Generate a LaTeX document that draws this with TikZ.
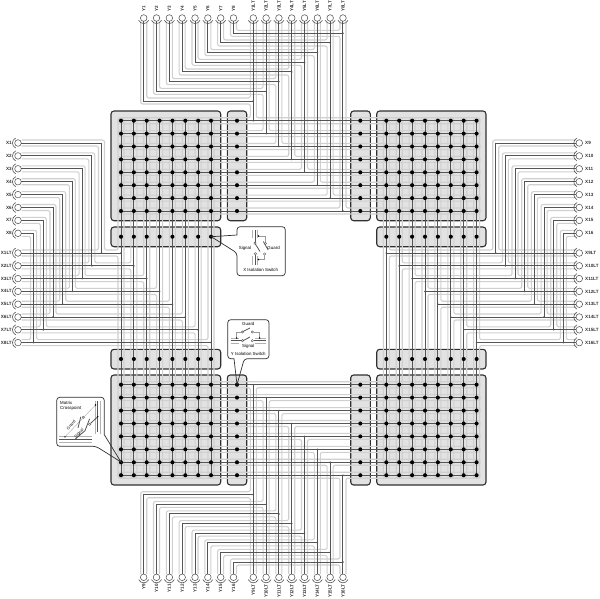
\documentclass[tikz,border=0pt]{standalone}
\usepackage{fontspec}
\setsansfont{Liberation Sans}
\tikzset{
  guardline/.style={draw=guardgray,line width=1.1pt,rounded corners=2pt},
  wire/.style={draw=wiredark,line width=1pt},
  swbox/.style={draw=boxedge,fill=boxfill,line width=1.1pt,rounded corners=3pt,inner sep=0pt,outer sep=0pt},
  term/.style={circle,draw=wiredark,fill=white,line width=0.55pt,inner sep=0pt,minimum size=6.6pt,outer sep=0pt},
  lab/.style={font=\sffamily\bfseries\fontsize{4.6}{5}\selectfont,text=labcol,inner sep=0pt},
  cal/.style={font=\sffamily\fontsize{4.4}{5}\selectfont,text=black,inner sep=0pt},
  callout/.style={draw=boxedge,line width=0.7pt,rounded corners=3pt},
  calfill/.style={fill=white,rounded corners=3pt},
  shield/.style={draw=guardgray!85!black,line width=0.7pt},
  blade/.style={draw=wiredark,line width=0.8pt},
  pole/.style={circle,draw=wiredark,fill=white,line width=0.4pt,inner sep=0pt,minimum size=2.4pt},
  jdot/.style={circle,fill=wiredark,inner sep=0pt,minimum size=1.8pt},
  xdot/.style={circle,fill=black,inner sep=0pt,minimum size=4.1pt},
}
\definecolor{guardgray}{HTML}{D0D0D0}
\definecolor{wiredark}{HTML}{555555}
\definecolor{boxedge}{HTML}{303030}
\definecolor{boxfill}{HTML}{E2E2E2}
\definecolor{labcol}{HTML}{333333}
\begin{document}
\begin{tikzpicture}[x=1pt,y=-1pt]
\useasboundingbox (0,0) rectangle (600,598);
% switch and matrix blocks
\node[swbox,minimum width=109.7pt,minimum height=109.7pt] (mTL) at (165.85,165.85) {};
\node[swbox,minimum width=109.3pt,minimum height=109.7pt] (mTR) at (431.35,165.85) {};
\node[swbox,minimum width=109.7pt,minimum height=110pt] (mBL) at (165.85,430) {};
\node[swbox,minimum width=109.3pt,minimum height=110pt] (mBR) at (431.35,430) {};
\node[swbox,minimum width=19.4pt,minimum height=109.7pt] (cTL) at (237,165.85) {};
\node[swbox,minimum width=19.6pt,minimum height=109.7pt] (cTR) at (360.5,165.85) {};
\node[swbox,minimum width=19.4pt,minimum height=110pt] (cBL) at (237,430) {};
\node[swbox,minimum width=19.6pt,minimum height=110pt] (cBR) at (360.5,430) {};
\node[swbox,minimum width=109.7pt,minimum height=19.7pt] (rTL) at (165.85,236.85) {};
\node[swbox,minimum width=109.3pt,minimum height=19.7pt] (rTR) at (431.35,236.85) {};
\node[swbox,minimum width=109.7pt,minimum height=19.7pt] (rBL) at (165.85,359.15) {};
\node[swbox,minimum width=109.3pt,minimum height=19.7pt] (rBR) at (431.35,359.15) {};
% guards
\foreach \i in {1,...,8}{
  \pgfmathsetmacro{\tx}{143.7+(\i-1)*12.83}
  \pgfmathsetmacro{\bx}{253.3+(\i-1)*12.81}
  \pgfmathsetmacro{\ty}{101-(\i-1)*9.67}
  \pgfmathsetmacro{\by}{494.7+(\i-1)*9.62}
  \pgfmathsetmacro{\rt}{120.7+(\i-1)*12.9}
  \pgfmathsetmacro{\rb}{384.7+(\i-1)*12.93}
  \pgfmathsetmacro{\ly}{143+(\i-1)*12.9}
  \pgfmathsetmacro{\ll}{253+(\i-1)*12.8}
  \pgfmathsetmacro{\xl}{101.5-(\i-1)*9.7}
  \pgfmathsetmacro{\xr}{495.7+(\i-1)*9.67}
  \pgfmathsetmacro{\cl}{121+(\i-1)*12.86}
  \pgfmathsetmacro{\cr}{386.3+(\i-1)*12.9}
  \path[guardline] (\tx-3,21.5) -- (\tx-3,\ty+3) -- (\bx-3,\ty+3) -- (\bx-3,\rt-3) -- (118,\rt-3) -- (118,\rt+3) -- (480,\rt+3) -- (480,\rt-3) -- (\bx+3,\rt-3) -- (\bx+3,21.5);
  \path[guardline] (\tx+3,21.5) -- (\tx+3,\ty-3) -- (\bx-3,\ty-3) -- (\bx-3,21.5);
  \path[guardline] (\tx-3,573.8) -- (\tx-3,\by-3) -- (\bx-3,\by-3) -- (\bx-3,\rb+3) -- (118,\rb+3) -- (118,\rb-3) -- (480,\rb-3) -- (480,\rb+3) -- (\bx+3,\rb+3) -- (\bx+3,573.8);
  \path[guardline] (\tx+3,573.8) -- (\tx+3,\by+3) -- (\bx-3,\by+3) -- (\bx-3,573.8);
  \path[guardline] (21.5,\ly-3) -- (\xl+3,\ly-3) -- (\xl+3,\ll-3) -- (\cl-3,\ll-3) -- (\cl-3,118) -- (\cl+3,118) -- (\cl+3,478) -- (\cl-3,478) -- (\cl-3,\ll+3) -- (21.5,\ll+3);
  \path[guardline] (21.5,\ly+3) -- (\xl-3,\ly+3) -- (\xl-3,\ll-3) -- (21.5,\ll-3);
  \path[guardline] (575.8,\ly-3) -- (\xr-3,\ly-3) -- (\xr-3,\ll-3) -- (\cr+3,\ll-3) -- (\cr+3,118) -- (\cr-3,118) -- (\cr-3,478) -- (\cr+3,478) -- (\cr+3,\ll+3) -- (575.8,\ll+3);
  \path[guardline] (575.8,\ly+3) -- (\xr+3,\ly+3) -- (\xr+3,\ll-3) -- (575.8,\ll-3);
}
% terminals, junctions, traces
\foreach \i in {1,...,8}{
  \pgfmathtruncatemacro{\m}{\i+8}
  \pgfmathsetmacro{\tx}{143.7+(\i-1)*12.83}
  \pgfmathsetmacro{\bx}{253.3+(\i-1)*12.81}
  \pgfmathsetmacro{\ty}{101-(\i-1)*9.67}
  \pgfmathsetmacro{\by}{494.7+(\i-1)*9.62}
  \pgfmathsetmacro{\rt}{120.7+(\i-1)*12.9}
  \pgfmathsetmacro{\rb}{384.7+(\i-1)*12.93}
  \pgfmathsetmacro{\ly}{143+(\i-1)*12.9}
  \pgfmathsetmacro{\ll}{253+(\i-1)*12.8}
  \pgfmathsetmacro{\xl}{101.5-(\i-1)*9.7}
  \pgfmathsetmacro{\xr}{495.7+(\i-1)*9.67}
  \pgfmathsetmacro{\cl}{121+(\i-1)*12.86}
  \pgfmathsetmacro{\cr}{386.3+(\i-1)*12.9}
  \node[term] (TA\i) at (\tx,18) {};
  \node[term] (TB\i) at (\bx,18) {};
  \node[term] (BA\i) at (\tx,577.3) {};
  \node[term] (BB\i) at (\bx,577.3) {};
  \node[term] (LA\i) at (18,\ly) {};
  \node[term] (LB\i) at (18,\ll) {};
  \node[term] (RA\i) at (579.3,\ly) {};
  \node[term] (RB\i) at (579.3,\ll) {};
  \foreach \px in {\tx,\bx}{
    \draw[wiredark,line width=0.6pt] (\px-5,20.3) .. controls (\px-3,24.6) and (\px+3,24.6) .. (\px+5,20.3);
    \draw[wiredark,line width=0.6pt] (\px-5,579.6) .. controls (\px-3,583.9) and (\px+3,583.9) .. (\px+5,579.6);
  }
  \foreach \py in {\ly,\ll}{
    \draw[wiredark,line width=0.6pt] (15.7,\py-5) .. controls (11.4,\py-3) and (11.4,\py+3) .. (15.7,\py+5);
    \draw[wiredark,line width=0.6pt] (577,\py-5) .. controls (572.7,\py-3) and (572.7,\py+3) .. (577,\py+5);
  }
  \node[lab,rotate=90,anchor=west] at (\tx,12) {Y\i};
  \node[lab,rotate=90,anchor=west] at (\bx,12) {Y\i LT};
  \node[lab,rotate=90,anchor=east] at (\tx,584) {Y\m};
  \node[lab,rotate=90,anchor=east] at (\bx,584) {Y\m LT};
  \node[lab,anchor=east] at (12,\ly) {X\i};
  \node[lab,anchor=east] at (12,\ll) {X\i LT};
  \node[lab,anchor=west] at (585,\ly) {X\m};
  \node[lab,anchor=west] at (585,\ll) {X\m LT};
  \coordinate (JT\i) at (\bx,\ty);
  \coordinate (JB\i) at (\bx,\by);
  \coordinate (JL\i) at (\xl,\ll);
  \coordinate (JR\i) at (\xr,\ll);
  \coordinate (RowTa\i) at (121,\rt);
  \coordinate (RowTb\i) at (476.7,\rt);
  \coordinate (RowBa\i) at (121,\rb);
  \coordinate (RowBb\i) at (476.7,\rb);
  \coordinate (ColLa\i) at (\cl,120.7);
  \coordinate (ColLb\i) at (\cl,475.2);
  \coordinate (ColRa\i) at (\cr,120.7);
  \coordinate (ColRb\i) at (\cr,475.2);
  \draw[wire] (RowTa\i) -- (RowTb\i);
  \draw[wire] (RowBa\i) -- (RowBb\i);
  \draw[wire] (ColLa\i) -- (ColLb\i);
  \draw[wire] (ColRa\i) -- (ColRb\i);
  \draw[wire] (TA\i.south) |- (JT\i);
  \draw[wire] (TB\i.south) -- (\bx,\rt);
  \draw[wire] (BA\i.north) |- (JB\i);
  \draw[wire] (BB\i.north) -- (\bx,\rb);
  \draw[wire] (LA\i.east) -| (JL\i);
  \draw[wire] (LB\i.east) -- (\cl,\ll);
  \draw[wire] (RA\i.west) -| (JR\i);
  \draw[wire] (RB\i.west) -- (\cr,\ll);
  \node[jdot] at (JT\i) {};
  \node[jdot] at (JB\i) {};
  \node[jdot] at (JL\i) {};
  \node[jdot] at (JR\i) {};
  \node[jdot] at (\bx,\rt) {};
  \node[jdot] at (\bx,\rb) {};
  \node[jdot] at (\cl,\ll) {};
  \node[jdot] at (\cr,\ll) {};
}
% crosspoints and isolation switch contacts
\foreach \i in {1,...,8}{
  \pgfmathsetmacro{\rt}{120.7+(\i-1)*12.9}
  \pgfmathsetmacro{\rb}{384.7+(\i-1)*12.93}
  \pgfmathsetmacro{\cl}{121+(\i-1)*12.86}
  \pgfmathsetmacro{\cr}{386.3+(\i-1)*12.9}
  \node[xdot] at (237,\rt) {};
  \node[xdot] at (360.3,\rt) {};
  \node[xdot] at (237,\rb) {};
  \node[xdot] at (360.3,\rb) {};
  \node[xdot] at (\cl,236.7) {};
  \node[xdot] at (\cl,359) {};
  \node[xdot] at (\cr,236.7) {};
  \node[xdot] at (\cr,359) {};
  \foreach \j in {1,...,8}{
    \pgfmathsetmacro{\rtj}{120.7+(\j-1)*12.9}
    \pgfmathsetmacro{\rbj}{384.7+(\j-1)*12.93}
    \node[xdot] at (\cl,\rtj) {};
    \node[xdot] at (\cr,\rtj) {};
    \node[xdot] at (\cl,\rbj) {};
    \node[xdot] at (\cr,\rbj) {};
  }
}
% X isolation callout
\path[calfill] (236.7,226.7) rectangle (285.3,275.7);
\draw[callout] (237,235) -- (237,226.7) -- (285.3,226.7) -- (285.3,275.7) -- (237,275.7) -- (237,253) [sharp corners] -- (211.3,236.7) -- cycle;
\draw[shield] (252.6,230) -- (252.6,238);
\draw[shield] (257.4,230) -- (257.4,238);
\draw[shield] (252.6,256) -- (252.6,265);
\draw[shield] (257.4,256) -- (257.4,265);
\node[pole] (sa) at (255,243.2) {};
\node[pole] (sb) at (255.4,253.8) {};
\node[pole] (ga) at (265.5,243.5) {};
\node[pole] (gb) at (264.6,254) {};
\coordinate (st) at (255,230);
\coordinate (sd) at (255.4,265);
\draw[blade] (st) -- (sa);
\draw[blade] (sb) -- (sd);
\draw[blade] (255.2,243.8) -- (260,251.5);
\draw[blade] (263.3,241.5) -- (268.2,250);
\draw[line width=0.5pt,draw=wiredark!60] (258.5,236) -| (ga);
\draw[line width=0.5pt,draw=wiredark!60] (258.5,259.5) -| (gb);
\node[circle,fill=black,inner sep=0pt,minimum size=1.6pt] at (258.5,236) {};
\node[circle,fill=black,inner sep=0pt,minimum size=1.6pt] at (258.5,259.5) {};
\node[cal] at (245,248.3) {Signal};
\node[cal] at (273.6,248.3) {Guard};
\node[cal] at (260.7,270.2) {X Isolation Switch};
% Y isolation callout
\path[calfill] (227.7,319.7) rectangle (269,358.7);
\draw[callout] (234,358.7) -- (227.7,358.7) -- (227.7,319.7) -- (269,319.7) -- (269,358.7) -- (244.3,358.7) [sharp corners] -- (237,384.7) -- cycle;
\draw[shield] (230.7,338.2) -- (239,338.2);
\draw[shield] (230.7,343.2) -- (239,343.2);
\draw[shield] (255,338.2) -- (265.7,338.2);
\draw[shield] (255,343.2) -- (265.7,343.2);
\node[pole] (ygb) at (242.3,332) {};
\node[pole] (ygc) at (252.3,332) {};
\node[pole] (ysb) at (242.5,340.7) {};
\node[pole] (ysc) at (252.3,340.7) {};
\coordinate (yl) at (230.7,340.7);
\coordinate (yr) at (265.7,340.7);
\draw[blade] (yl) -- (ysb);
\draw[blade] (ysc) -- (yr);
\draw[blade] (243,340.7) -- (250,337);
\draw[blade] (243,331.5) -- (250,328);
\draw[line width=0.5pt,draw=wiredark!60] (236.7,338) |- (ygb);
\draw[line width=0.5pt,draw=wiredark!60] (259.7,338) |- (ygc);
\node[circle,fill=black,inner sep=0pt,minimum size=1.6pt] at (236.7,338) {};
\node[circle,fill=black,inner sep=0pt,minimum size=1.6pt] at (259.7,338) {};
\node[cal] at (248.3,323.7) {Guard};
\node[cal] at (248.3,346.3) {Signal};
\node[cal] at (248.3,354) {Y Isolation Switch};
% crosspoint callout
\path[calfill] (56.7,397.3) rectangle (104.3,446.3);
\draw[callout] (104.3,434.7) -- (104.3,397.3) -- (56.7,397.3) -- (56.7,446.3) -- (96,446.3) [sharp corners] -- (121,462) -- cycle;
\node[cal,anchor=west] at (60,403) {Matrix};
\node[cal,anchor=west] at (60,408.2) {Crosspoint};
\draw[shield] (95,401) -- (95,434);
\draw[shield] (100.2,401) -- (100.2,434);
\draw[shield] (59.3,436) -- (91.7,436);
\draw[shield] (59.3,442.6) -- (91.7,442.6);
\coordinate (cv) at (97.7,401);
\coordinate (cvb) at (97.7,432);
\coordinate (cha) at (59.3,439.3);
\coordinate (chb) at (91.7,439.3);
\draw[wire] (cv) -- (cvb);
\draw[wire] (cha) -- (chb);
\node[pole] (cpg) at (83.3,417.3) {};
\node[pole] (cps) at (89.6,424.3) {};
\node[circle,fill=black,inner sep=0pt,minimum size=1.6pt] (dg) at (65,436.8) {};
\node[circle,fill=black,inner sep=0pt,minimum size=1.6pt] (dt) at (95.5,405) {};
\node[circle,fill=black,inner sep=0pt,minimum size=1.6pt] (ds) at (97.7,416.7) {};
\draw[line width=0.4pt,draw=wiredark!50] (dg) -- (dt);
\draw[blade] (ds) -- (cps);
\draw[blade] (75,439.3) -- (85,430.7) -- (89.6,418.8);
\draw[blade] (78,428) -- (80.8,416.8);
\node[cal,rotate=48,font=\sffamily\fontsize{4}{5}\selectfont] at (71,425) {Guard};
\node[cal,rotate=48,font=\sffamily\fontsize{4}{5}\selectfont] at (79.2,433.6) {Signal};
\end{tikzpicture}
\end{document}
